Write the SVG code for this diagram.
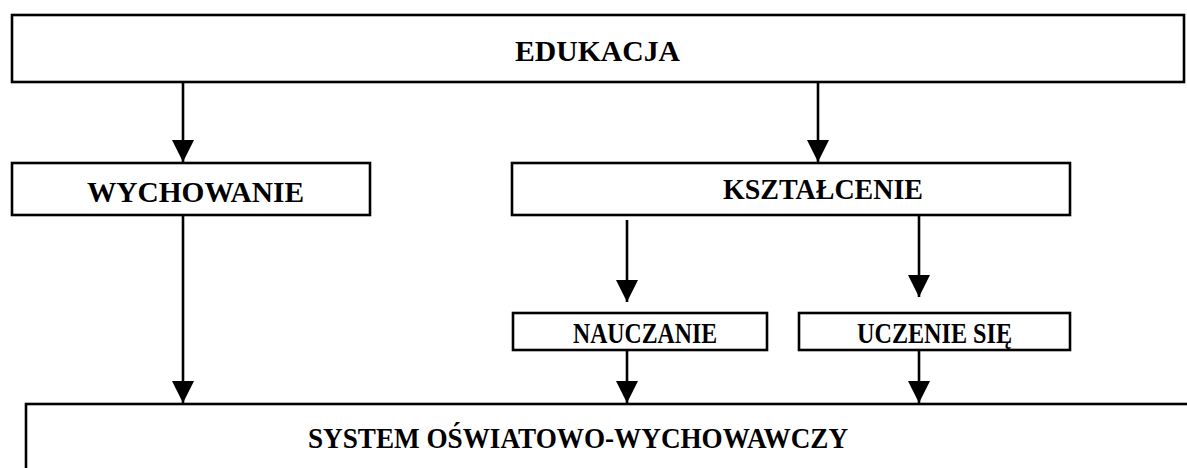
<svg xmlns="http://www.w3.org/2000/svg" width="1187" height="468" viewBox="0 0 1187 468">
<defs>
<style>
.box{fill:#fff;stroke:#000;stroke-width:2.6}
.lbl{font-family:"Liberation Serif","Times New Roman",serif;font-weight:bold;font-size:29px;fill:#000}
.con{stroke:#000;stroke-width:2.6;fill:none}
</style>
<marker id="ah" markerUnits="userSpaceOnUse" markerWidth="22" markerHeight="22" refX="22" refY="11" orient="auto" viewBox="0 0 22 22">
<path d="M0,0 L22,11 L0,22 Z" fill="#000"/>
</marker>
</defs>
<rect width="1187" height="468" fill="#fff"/>
<g id="edukacja">
<rect class="box" x="12" y="15" width="1172" height="67"/>
<text class="lbl" x="515" y="61" textLength="165" lengthAdjust="spacingAndGlyphs">EDUKACJA</text>
</g>
<g id="wychowanie">
<rect class="box" x="12" y="163" width="358" height="52"/>
<text class="lbl" x="87" y="202" textLength="217" lengthAdjust="spacingAndGlyphs">WYCHOWANIE</text>
</g>
<g id="ksztalcenie">
<rect class="box" x="512" y="163" width="558" height="52"/>
<text class="lbl" x="723" y="199" textLength="200" lengthAdjust="spacingAndGlyphs">KSZTAŁCENIE</text>
</g>
<g id="nauczanie">
<rect class="box" x="513" y="313" width="254" height="37"/>
<text class="lbl" x="573" y="343" textLength="144" lengthAdjust="spacingAndGlyphs">NAUCZANIE</text>
</g>
<g id="uczenie">
<rect class="box" x="799" y="313" width="271" height="37"/>
<text class="lbl" x="857" y="343" textLength="155" lengthAdjust="spacingAndGlyphs">UCZENIE SIĘ</text>
</g>
<g id="system">
<rect class="box" x="26" y="404" width="1200" height="100"/>
<text class="lbl" x="308" y="448" textLength="540" lengthAdjust="spacingAndGlyphs">SYSTEM OŚWIATOWO-WYCHOWAWCZY</text>
</g>
<g id="connectors">
<line class="con" x1="183" y1="83" x2="183" y2="162" marker-end="url(#ah)"/>
<line class="con" x1="818" y1="83" x2="818" y2="162" marker-end="url(#ah)"/>
<line class="con" x1="183" y1="216" x2="183" y2="403" marker-end="url(#ah)"/>
<line class="con" x1="627" y1="220" x2="627" y2="302" marker-end="url(#ah)"/>
<line class="con" x1="919" y1="216" x2="919" y2="297" marker-end="url(#ah)"/>
<line class="con" x1="627" y1="351" x2="627" y2="403" marker-end="url(#ah)"/>
<line class="con" x1="919" y1="351" x2="919" y2="403" marker-end="url(#ah)"/>
</g>
</svg>
